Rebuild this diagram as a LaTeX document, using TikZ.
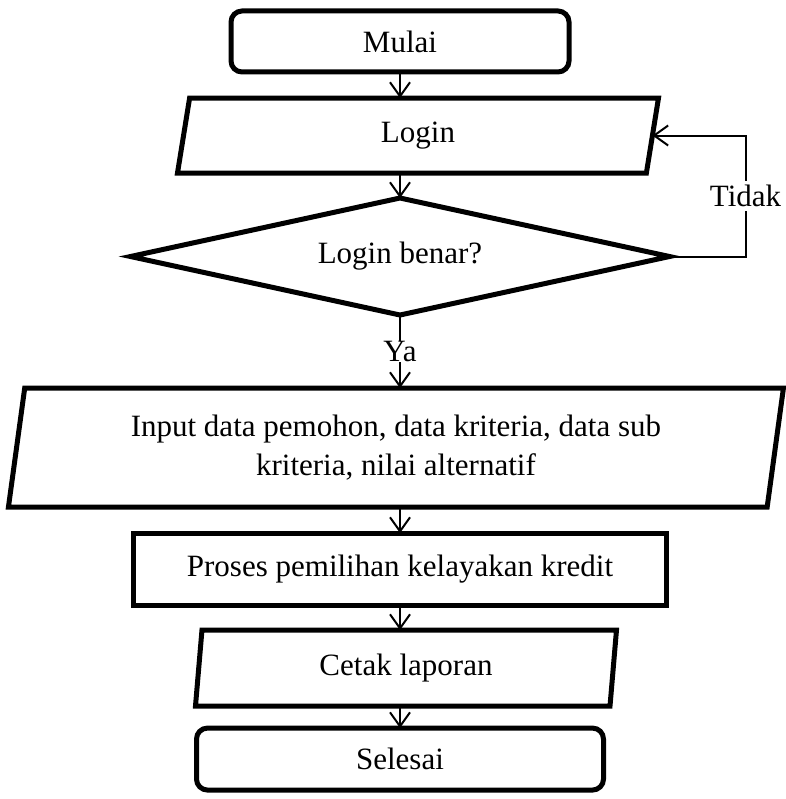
\documentclass[tikz,border=0pt]{standalone}
\usepackage{fontspec}
\setmainfont{Liberation Serif}
\usetikzlibrary{calc}
\usetikzlibrary{positioning}
\usetikzlibrary{arrows.meta}
\usetikzlibrary{shapes.geometric}

\begin{document}
\begin{tikzpicture}[>={Straight Barb[length=14pt, width=20pt]}, line width=2pt,
  font=\fontsize{31}{38}\selectfont,
  terminal/.style={draw, line width=5pt, rounded corners=11pt, outer sep=0pt, inner sep=0pt},
  io/.style={draw, line width=5pt, trapezium, trapezium stretches body, outer sep=0pt, inner sep=0pt, align=center},
  process/.style={draw, line width=5pt, rectangle, outer sep=0pt, inner sep=0pt},
  decision/.style={draw, line width=5pt, diamond, aspect=4.6, outer sep=0pt, inner sep=0pt}]
\useasboundingbox (0,0) rectangle (785pt,-799pt);
\node[terminal, minimum width=338pt, minimum height=61pt] (mulai) at (400pt,-41.5pt) {Mulai};
\node[io, minimum width=481pt, minimum height=75pt, trapezium left angle=66, trapezium right angle=114] (login) [below = 26pt of mulai, xshift=18pt] {Login};
\node[decision, minimum width=539pt, minimum height=117pt] (cek) [below = 25pt of mulai |- login.south] {Login benar?};
\node[io, minimum width=775pt, minimum height=119pt, trapezium left angle=76, trapezium right angle=104] (input) [below = 73pt of cek, xshift=-4pt] {Input data pemohon, data kriteria, data sub\\[1pt] kriteria, nilai alternatif};
\node[process, minimum width=533pt, minimum height=72pt] (proses) [below = 26pt of cek |- input.south] {Proses pemilihan kelayakan kredit};
\node[io, minimum width=421pt, minimum height=76pt, trapezium left angle=77, trapezium right angle=103] (cetak) [below = 25pt of proses, xshift=6pt] {Cetak laporan};
\node[terminal, minimum width=407pt, minimum height=62pt] (selesai) [below = 22pt of proses |- cetak.south] {Selesai};
\coordinate (balik) at ($(cek.east)+(76pt,0)$);
\draw[->] (mulai) -- (mulai |- login.north);
\draw[->] (mulai |- login.south) -- (cek);
\draw[->] (cek) -- node[fill=white, inner sep=0pt]{Ya} (cek |- input.north);
\draw[->] (cek |- input.south) -- (proses);
\draw[->] (proses) -- (proses |- cetak.north);
\draw[->] (proses |- cetak.south) -- (selesai);
\draw[->] (cek.east) -- (balik) -- node[fill=white, inner sep=4pt]{Tidak} (balik |- login.east) -- (login.east);
\end{tikzpicture}
\end{document}
